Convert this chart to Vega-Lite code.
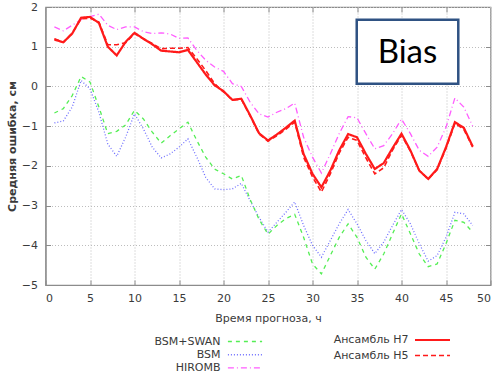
{
  "$schema": "https://vega.github.io/schema/vega-lite/v6.json",
  "width": 445,
  "height": 278,
  "autosize": {"type": "none"},
  "padding": {"left": 45.5, "top": 7, "right": 5.5, "bottom": 89},
  "config": {
    "font": "DejaVu Sans",
    "view": {"stroke": "#8c8c8c", "strokeWidth": 1.2},
    "axis": {
      "labelFont": "DejaVu Sans", "labelFontSize": 11, "labelColor": "#3a3a3a",
      "titleFont": "DejaVu Sans", "titleFontSize": 11, "titleColor": "#3a3a3a",
      "domainColor": "#8c8c8c", "tickColor": "#8c8c8c",
      "gridColor": "#bdbdbd", "gridDash": [1, 2], "gridWidth": 1
    }
  },
  "data": {
    "values": [
      {"h":1,"s":"Ансамбль H7","v":1.18},{"h":2,"s":"Ансамбль H7","v":1.11},{"h":3,"s":"Ансамбль H7","v":1.33},{"h":4,"s":"Ансамбль H7","v":1.73},{"h":5,"s":"Ансамбль H7","v":1.75},{"h":6,"s":"Ансамбль H7","v":1.6},{"h":7,"s":"Ансамбль H7","v":1.0},{"h":8,"s":"Ансамбль H7","v":0.78},{"h":9,"s":"Ансамбль H7","v":1.12},{"h":10,"s":"Ансамбль H7","v":1.35},{"h":11,"s":"Ансамбль H7","v":1.2},{"h":12,"s":"Ансамбль H7","v":1.06},{"h":13,"s":"Ансамбль H7","v":0.9},{"h":14,"s":"Ансамбль H7","v":0.88},{"h":15,"s":"Ансамбль H7","v":0.86},{"h":16,"s":"Ансамбль H7","v":0.92},{"h":17,"s":"Ансамбль H7","v":0.61},{"h":18,"s":"Ансамбль H7","v":0.3},{"h":19,"s":"Ансамбль H7","v":0.03},{"h":20,"s":"Ансамбль H7","v":-0.12},{"h":21,"s":"Ансамбль H7","v":-0.34},{"h":22,"s":"Ансамбль H7","v":-0.31},{"h":23,"s":"Ансамбль H7","v":-0.73},{"h":24,"s":"Ансамбль H7","v":-1.18},{"h":25,"s":"Ансамбль H7","v":-1.36},{"h":26,"s":"Ансамбль H7","v":-1.21},{"h":27,"s":"Ансамбль H7","v":-1.04},{"h":28,"s":"Ансамбль H7","v":-0.86},{"h":29,"s":"Ансамбль H7","v":-1.7},{"h":30,"s":"Ансамбль H7","v":-2.2},{"h":31,"s":"Ансамбль H7","v":-2.54},{"h":32,"s":"Ансамбль H7","v":-2.12},{"h":33,"s":"Ансамбль H7","v":-1.61},{"h":34,"s":"Ансамбль H7","v":-1.2},{"h":35,"s":"Ансамбль H7","v":-1.28},{"h":36,"s":"Ансамбль H7","v":-1.7},{"h":37,"s":"Ансамбль H7","v":-2.08},{"h":38,"s":"Ансамбль H7","v":-1.93},{"h":39,"s":"Ансамбль H7","v":-1.55},{"h":40,"s":"Ансамбль H7","v":-1.19},{"h":41,"s":"Ансамбль H7","v":-1.61},{"h":42,"s":"Ансамбль H7","v":-2.12},{"h":43,"s":"Ансамбль H7","v":-2.33},{"h":44,"s":"Ансамбль H7","v":-2.08},{"h":45,"s":"Ансамбль H7","v":-1.53},{"h":46,"s":"Ансамбль H7","v":-0.9},{"h":47,"s":"Ансамбль H7","v":-1.04},{"h":48,"s":"Ансамбль H7","v":-1.51},
      {"h":1,"s":"Ансамбль H5","v":1.2},{"h":2,"s":"Ансамбль H5","v":1.12},{"h":3,"s":"Ансамбль H5","v":1.34},{"h":4,"s":"Ансамбль H5","v":1.7},{"h":5,"s":"Ансамбль H5","v":1.72},{"h":6,"s":"Ансамбль H5","v":1.62},{"h":7,"s":"Ансамбль H5","v":1.05},{"h":8,"s":"Ансамбль H5","v":1.05},{"h":9,"s":"Ансамбль H5","v":1.1},{"h":10,"s":"Ансамбль H5","v":1.33},{"h":11,"s":"Ансамбль H5","v":1.2},{"h":12,"s":"Ансамбль H5","v":1.08},{"h":13,"s":"Ансамбль H5","v":0.95},{"h":14,"s":"Ансамбль H5","v":0.96},{"h":15,"s":"Ансамбль H5","v":0.96},{"h":16,"s":"Ансамбль H5","v":0.98},{"h":17,"s":"Ансамбль H5","v":0.7},{"h":18,"s":"Ансамбль H5","v":0.4},{"h":19,"s":"Ансамбль H5","v":0.07},{"h":20,"s":"Ансамбль H5","v":-0.14},{"h":21,"s":"Ансамбль H5","v":-0.34},{"h":22,"s":"Ансамбль H5","v":-0.32},{"h":23,"s":"Ансамбль H5","v":-0.75},{"h":24,"s":"Ансамбль H5","v":-1.2},{"h":25,"s":"Ансамбль H5","v":-1.38},{"h":26,"s":"Ансамбль H5","v":-1.24},{"h":27,"s":"Ансамбль H5","v":-1.08},{"h":28,"s":"Ансамбль H5","v":-0.9},{"h":29,"s":"Ансамбль H5","v":-1.78},{"h":30,"s":"Ансамбль H5","v":-2.28},{"h":31,"s":"Ансамбль H5","v":-2.66},{"h":32,"s":"Ансамбль H5","v":-2.2},{"h":33,"s":"Ансамбль H5","v":-1.68},{"h":34,"s":"Ансамбль H5","v":-1.28},{"h":35,"s":"Ансамбль H5","v":-1.36},{"h":36,"s":"Ансамбль H5","v":-1.8},{"h":37,"s":"Ансамбль H5","v":-2.2},{"h":38,"s":"Ансамбль H5","v":-2.05},{"h":39,"s":"Ансамбль H5","v":-1.6},{"h":40,"s":"Ансамбль H5","v":-1.23},{"h":41,"s":"Ансамбль H5","v":-1.63},{"h":42,"s":"Ансамбль H5","v":-2.12},{"h":43,"s":"Ансамбль H5","v":-2.33},{"h":44,"s":"Ансамбль H5","v":-2.1},{"h":45,"s":"Ансамбль H5","v":-1.56},{"h":46,"s":"Ансамбль H5","v":-0.93},{"h":47,"s":"Ансамбль H5","v":-1.08},{"h":48,"s":"Ансамбль H5","v":-1.53},
      {"h":1,"s":"HIROMB","v":1.5},{"h":2,"s":"HIROMB","v":1.4},{"h":3,"s":"HIROMB","v":1.54},{"h":4,"s":"HIROMB","v":1.68},{"h":5,"s":"HIROMB","v":1.76},{"h":6,"s":"HIROMB","v":1.82},{"h":7,"s":"HIROMB","v":1.54},{"h":8,"s":"HIROMB","v":1.43},{"h":9,"s":"HIROMB","v":1.5},{"h":10,"s":"HIROMB","v":1.5},{"h":11,"s":"HIROMB","v":1.38},{"h":12,"s":"HIROMB","v":1.33},{"h":13,"s":"HIROMB","v":1.35},{"h":14,"s":"HIROMB","v":1.32},{"h":15,"s":"HIROMB","v":1.21},{"h":16,"s":"HIROMB","v":1.22},{"h":17,"s":"HIROMB","v":0.91},{"h":18,"s":"HIROMB","v":0.66},{"h":19,"s":"HIROMB","v":0.49},{"h":20,"s":"HIROMB","v":0.38},{"h":21,"s":"HIROMB","v":0.07},{"h":22,"s":"HIROMB","v":0.0},{"h":23,"s":"HIROMB","v":-0.4},{"h":24,"s":"HIROMB","v":-0.69},{"h":25,"s":"HIROMB","v":-0.77},{"h":26,"s":"HIROMB","v":-0.65},{"h":27,"s":"HIROMB","v":-0.56},{"h":28,"s":"HIROMB","v":-0.42},{"h":29,"s":"HIROMB","v":-1.28},{"h":30,"s":"HIROMB","v":-1.78},{"h":31,"s":"HIROMB","v":-2.18},{"h":32,"s":"HIROMB","v":-1.7},{"h":33,"s":"HIROMB","v":-1.19},{"h":34,"s":"HIROMB","v":-0.76},{"h":35,"s":"HIROMB","v":-0.79},{"h":36,"s":"HIROMB","v":-1.19},{"h":37,"s":"HIROMB","v":-1.57},{"h":38,"s":"HIROMB","v":-1.49},{"h":39,"s":"HIROMB","v":-1.19},{"h":40,"s":"HIROMB","v":-0.82},{"h":41,"s":"HIROMB","v":-1.19},{"h":42,"s":"HIROMB","v":-1.61},{"h":43,"s":"HIROMB","v":-1.76},{"h":44,"s":"HIROMB","v":-1.53},{"h":45,"s":"HIROMB","v":-1.03},{"h":46,"s":"HIROMB","v":-0.29},{"h":47,"s":"HIROMB","v":-0.52},{"h":48,"s":"HIROMB","v":-1.0},
      {"h":1,"s":"BSM","v":-0.92},{"h":2,"s":"BSM","v":-0.87},{"h":3,"s":"BSM","v":-0.52},{"h":4,"s":"BSM","v":0.15},{"h":5,"s":"BSM","v":-0.06},{"h":6,"s":"BSM","v":-0.65},{"h":7,"s":"BSM","v":-1.45},{"h":8,"s":"BSM","v":-1.76},{"h":9,"s":"BSM","v":-1.28},{"h":10,"s":"BSM","v":-0.69},{"h":11,"s":"BSM","v":-1.07},{"h":12,"s":"BSM","v":-1.53},{"h":13,"s":"BSM","v":-1.8},{"h":14,"s":"BSM","v":-1.7},{"h":15,"s":"BSM","v":-1.53},{"h":16,"s":"BSM","v":-1.32},{"h":17,"s":"BSM","v":-1.78},{"h":18,"s":"BSM","v":-2.29},{"h":19,"s":"BSM","v":-2.58},{"h":20,"s":"BSM","v":-2.6},{"h":21,"s":"BSM","v":-2.58},{"h":22,"s":"BSM","v":-2.44},{"h":23,"s":"BSM","v":-2.88},{"h":24,"s":"BSM","v":-3.3},{"h":25,"s":"BSM","v":-3.67},{"h":26,"s":"BSM","v":-3.42},{"h":27,"s":"BSM","v":-3.17},{"h":28,"s":"BSM","v":-2.91},{"h":29,"s":"BSM","v":-3.5},{"h":30,"s":"BSM","v":-4.0},{"h":31,"s":"BSM","v":-4.3},{"h":32,"s":"BSM","v":-3.88},{"h":33,"s":"BSM","v":-3.46},{"h":34,"s":"BSM","v":-3.1},{"h":35,"s":"BSM","v":-3.46},{"h":36,"s":"BSM","v":-3.88},{"h":37,"s":"BSM","v":-4.21},{"h":38,"s":"BSM","v":-3.92},{"h":39,"s":"BSM","v":-3.5},{"h":40,"s":"BSM","v":-3.1},{"h":41,"s":"BSM","v":-3.46},{"h":42,"s":"BSM","v":-3.96},{"h":43,"s":"BSM","v":-4.4},{"h":44,"s":"BSM","v":-4.26},{"h":45,"s":"BSM","v":-3.8},{"h":46,"s":"BSM","v":-3.17},{"h":47,"s":"BSM","v":-3.21},{"h":48,"s":"BSM","v":-3.5},
      {"h":1,"s":"BSM+SWAN","v":-0.67},{"h":2,"s":"BSM+SWAN","v":-0.56},{"h":3,"s":"BSM+SWAN","v":-0.23},{"h":4,"s":"BSM+SWAN","v":0.25},{"h":5,"s":"BSM+SWAN","v":0.11},{"h":6,"s":"BSM+SWAN","v":-0.52},{"h":7,"s":"BSM+SWAN","v":-1.19},{"h":8,"s":"BSM+SWAN","v":-1.13},{"h":9,"s":"BSM+SWAN","v":-0.97},{"h":10,"s":"BSM+SWAN","v":-0.6},{"h":11,"s":"BSM+SWAN","v":-0.82},{"h":12,"s":"BSM+SWAN","v":-1.15},{"h":13,"s":"BSM+SWAN","v":-1.43},{"h":14,"s":"BSM+SWAN","v":-1.24},{"h":15,"s":"BSM+SWAN","v":-1.07},{"h":16,"s":"BSM+SWAN","v":-0.9},{"h":17,"s":"BSM+SWAN","v":-1.36},{"h":18,"s":"BSM+SWAN","v":-1.78},{"h":19,"s":"BSM+SWAN","v":-2.08},{"h":20,"s":"BSM+SWAN","v":-2.2},{"h":21,"s":"BSM+SWAN","v":-2.33},{"h":22,"s":"BSM+SWAN","v":-2.24},{"h":23,"s":"BSM+SWAN","v":-2.85},{"h":24,"s":"BSM+SWAN","v":-3.35},{"h":25,"s":"BSM+SWAN","v":-3.72},{"h":26,"s":"BSM+SWAN","v":-3.5},{"h":27,"s":"BSM+SWAN","v":-3.33},{"h":28,"s":"BSM+SWAN","v":-3.22},{"h":29,"s":"BSM+SWAN","v":-3.8},{"h":30,"s":"BSM+SWAN","v":-4.47},{"h":31,"s":"BSM+SWAN","v":-4.72},{"h":32,"s":"BSM+SWAN","v":-4.26},{"h":33,"s":"BSM+SWAN","v":-3.8},{"h":34,"s":"BSM+SWAN","v":-3.46},{"h":35,"s":"BSM+SWAN","v":-3.8},{"h":36,"s":"BSM+SWAN","v":-4.3},{"h":37,"s":"BSM+SWAN","v":-4.6},{"h":38,"s":"BSM+SWAN","v":-4.22},{"h":39,"s":"BSM+SWAN","v":-3.71},{"h":40,"s":"BSM+SWAN","v":-3.21},{"h":41,"s":"BSM+SWAN","v":-3.71},{"h":42,"s":"BSM+SWAN","v":-4.22},{"h":43,"s":"BSM+SWAN","v":-4.54},{"h":44,"s":"BSM+SWAN","v":-4.47},{"h":45,"s":"BSM+SWAN","v":-3.96},{"h":46,"s":"BSM+SWAN","v":-3.37},{"h":47,"s":"BSM+SWAN","v":-3.42},{"h":48,"s":"BSM+SWAN","v":-3.67}
    ]
  },
  "layer": [
    {
      "transform": [{"filter": {"field": "s", "oneOf": ["BSM+SWAN", "BSM", "HIROMB"]}}],
      "mark": {"type": "line", "strokeWidth": 1.3, "clip": true},
      "encoding": {
        "x": {"field": "h", "type": "quantitative", "scale": {"domain": [0, 50], "nice": false},
              "axis": {"values": [0,5,10,15,20,25,30,35,40,45,50], "title": "Время прогноза, ч", "titleFontWeight": "normal", "titlePadding": 9, "ticks": true, "tickSize": -5, "labelPadding": 12, "grid": true, "domainWidth": 1.2}},
        "y": {"field": "v", "type": "quantitative", "scale": {"domain": [-5, 2], "nice": false},
              "axis": {"values": [-5,-4,-3,-2,-1,0,1,2], "title": "Средняя ошибка, см", "titleFontWeight": "bold", "titlePadding": 4, "ticks": true, "tickSize": -5, "labelPadding": 13, "grid": true, "domainWidth": 1.2}},
        "color": {"field": "s", "type": "nominal",
                  "scale": {"domain": ["BSM+SWAN", "BSM", "HIROMB"], "range": ["#55ee55", "#7070ff", "#ff5cff"]},
                  "legend": {"orient": "none", "legendX": 193, "legendY": 328, "title": null, "symbolType": "M-3,0H3", "symbolSize": 130, "symbolStrokeWidth": 1.4, "labelAlign": "right", "labelOffset": -31, "labelFontSize": 11, "labelColor": "#3a3a3a", "rowPadding": 1.2}},
        "strokeDash": {"field": "s", "type": "nominal",
                  "scale": {"domain": ["BSM+SWAN", "BSM", "HIROMB"], "range": [[4, 4], [1, 2], [6, 3, 1, 3]]},
                  "legend": {"orient": "none", "legendX": 193, "legendY": 328, "title": null, "symbolType": "M-3,0H3", "symbolSize": 130, "symbolStrokeWidth": 1.4, "labelAlign": "right", "labelOffset": -31, "labelFontSize": 11, "labelColor": "#3a3a3a", "rowPadding": 1.2}}
      }
    },
    {
      "transform": [{"filter": {"field": "s", "oneOf": ["Ансамбль H7", "Ансамбль H5"]}}],
      "mark": {"type": "line", "clip": true},
      "encoding": {
        "x": {"field": "h", "type": "quantitative", "scale": {"domain": [0, 50], "nice": false}, "axis": null},
        "y": {"field": "v", "type": "quantitative", "scale": {"domain": [-5, 2], "nice": false}, "axis": null},
        "color": {"field": "s", "type": "nominal",
                  "scale": {"domain": ["Ансамбль H7", "Ансамбль H5"], "range": ["#ff1a1a", "#ff1a1a"]},
                  "legend": {"orient": "none", "legendX": 380, "legendY": 326, "title": null, "symbolType": "M-3,0H3", "symbolSize": 136, "symbolStrokeWidth": 2, "labelAlign": "right", "labelOffset": -31, "labelFontSize": 11, "labelColor": "#3a3a3a", "rowPadding": 3.5}},
        "strokeDash": {"field": "s", "type": "nominal",
                  "scale": {"domain": ["Ансамбль H7", "Ансамбль H5"], "range": [[1, 0], [5, 3]]},
                  "legend": {"orient": "none", "legendX": 380, "legendY": 326, "title": null, "symbolType": "M-3,0H3", "symbolSize": 136, "symbolStrokeWidth": 2, "labelAlign": "right", "labelOffset": -31, "labelFontSize": 11, "labelColor": "#3a3a3a", "rowPadding": 3.5}},
        "strokeWidth": {"field": "s", "type": "nominal",
                  "scale": {"domain": ["Ансамбль H7", "Ансамбль H5"], "range": [2.2, 1.6]},
                  "legend": null}
      }
    },
    {
      "data": {"values": [{"x1": 34.97, "x2": 46.38, "y1": 1.68, "y2": 0.07, "tx": 40.67, "ty": 0.83, "label": "Bias"}]},
      "layer": [
        {
          "mark": {"type": "rect", "fill": "white", "stroke": "#2f5283", "strokeWidth": 2.5},
          "encoding": {
            "x": {"field": "x1", "type": "quantitative", "scale": {"domain": [0, 50], "nice": false},
                  "axis": {"orient": "top", "values": [5,10,15,20,25,30,35,40,45], "labels": false, "title": null, "grid": false, "domain": false, "ticks": true, "tickSize": -5}},
            "x2": {"field": "x2"},
            "y": {"field": "y1", "type": "quantitative", "scale": {"domain": [-5, 2], "nice": false},
                  "axis": {"orient": "right", "values": [-4,-3,-2,-1,0,1], "labels": false, "title": null, "grid": false, "domain": false, "ticks": true, "tickSize": -5}},
            "y2": {"field": "y2"}
          }
        },
        {
          "mark": {"type": "text", "font": "Lato", "fontSize": 33, "color": "black", "align": "center", "baseline": "middle"},
          "encoding": {
            "x": {"field": "tx", "type": "quantitative"},
            "y": {"field": "ty", "type": "quantitative"},
            "text": {"field": "label"}
          }
        }
      ]
    }
  ],
  "resolve": {
    "axis": {"x": "independent", "y": "independent"},
    "scale": {"color": "independent", "strokeDash": "independent", "strokeWidth": "independent"},
    "legend": {"color": "independent", "strokeDash": "independent", "strokeWidth": "independent"}
  }
}
